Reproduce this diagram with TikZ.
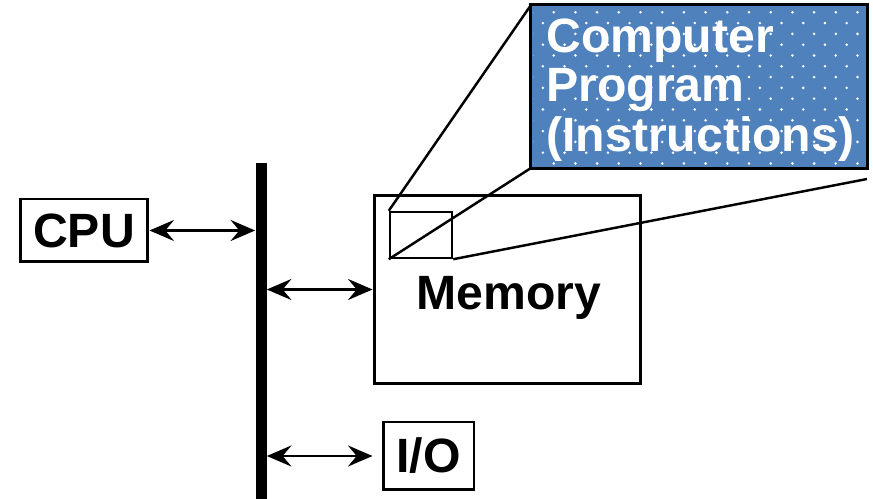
\documentclass[tikz,border=0pt]{standalone}
\usepackage{fontspec}
\setmainfont{Liberation Sans}
\usetikzlibrary{positioning, arrows.meta}

\definecolor{progblue}{RGB}{79,129,189}

\tikzset{
	unit/.style={draw, line width=1.7pt, inner sep=0pt, font=\bfseries\fontsize{27.4}{28.35}\selectfont},
	link/.style={line width=1.3pt, {Stealth[length=14pt,width=12pt,inset=5pt]}-{Stealth[length=14pt,width=12pt,inset=5pt]}},
	zoomline/.style={line width=1.4pt}
}

\begin{document}
\begin{tikzpicture}[x=0.02cm, y=-0.02cm]
	\useasboundingbox (0,0) rectangle (873,499);

	\node[unit, minimum width=2.56cm, minimum height=1.26cm] (cpu) at (84,230.5) {CPU};
	\node[fill, inner sep=0pt, minimum width=0.22cm, minimum height=6.74cm] (bus) at (261,331) {};
	\node[unit, minimum width=5.34cm, minimum height=3.78cm] (mem) at (507.5,289.5) {};
	\node[unit, draw=none, anchor=base] (memlbl) at (509,310) {Memory};
	\node[unit, minimum width=1.82cm, minimum height=1.36cm] (io) at (428.5,456) {I/O};
	\node[draw, line width=1.4pt, minimum width=1.24cm, minimum height=0.92cm] (prog) at (421,235) {};

	% zoom of the program
	\coordinate (tail) at (867,179);
	\draw[zoomline] (prog.north west) -- (531,5);
	\draw[zoomline] (prog.south west) -- (531,168);
	\draw[zoomline] (prog.south east) -- (tail);

	\node[fill=progblue, inner sep=0pt, minimum width=6.72cm, minimum height=3.26cm] (blue) at (699,86.5) {};
	\begin{scope}
		\clip (533,7) rectangle (865,166);
		\foreach \r in {0,...,14}
			\foreach \c in {0,...,15}
				\fill[white] ({532+\c*21.7+mod(\r,2)*10.85},{12.3+\r*10.8}) circle[radius=0.8pt];
	\end{scope}
	\draw[line width=1.7pt] (blue.north west) rectangle (blue.south east);
	\node[unit, draw=none, text=white, align=left, anchor=north west] (progtxt) at (545,17) {Computer\\Program\\(Instructions)};

	\draw[link] (cpu.east) -- (cpu.east -| bus.west);
	\draw[link] (bus.east |- mem.west) -- (mem.west);
	\draw[link, shorten >=0.18cm] (bus.east |- io.west) -- (io.west);
\end{tikzpicture}
\end{document}
